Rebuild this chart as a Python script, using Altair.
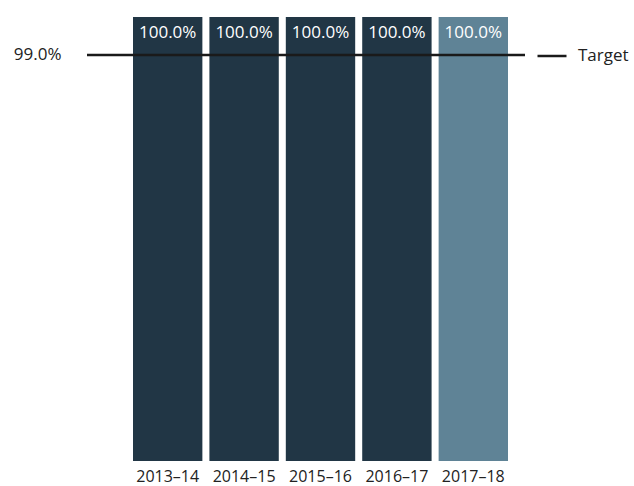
import altair as alt
import pandas as pd

years = ["2013–14", "2014–15", "2015–16", "2016–17", "2017–18"]
values = [100.0, 100.0, 100.0, 100.0, 100.0]
kinds = ["past", "past", "past", "past", "current"]
target = [99.0]
base = 88.3

df = pd.DataFrame({"year": years, "value": values, "kind": kinds, "base": [base] * len(years)})
df["label"] = [f"{v:.1f}%" for v in values]
tdf = pd.DataFrame({"t": target, "series": ["Target"]})

FONT = "Open Sans"
FS = 17

x = alt.X("year:N", sort=years, title=None,
          scale=alt.Scale(range=[46, 421], paddingInner=0.092, paddingOuter=0),
          axis=alt.Axis(domain=False, ticks=False, labelAngle=0, labelPadding=7,
                        labelFontSize=16, labelColor="#222", labelFont=FONT))
yscale = alt.Scale(domain=[base, 100], zero=False, nice=False)

bars = alt.Chart(df).mark_bar().encode(
    x=x,
    y=alt.Y("value:Q", scale=yscale, title=None,
            axis=alt.Axis(values=[99], domain=False, ticks=False, grid=False,
                          labelExpr="format(datum.value, '.1f') + '%'",
                          labelPadding=26, labelFontSize=FS, labelColor="#222", labelFont=FONT)),
    y2="base:Q",
    color=alt.Color("kind:N", scale=alt.Scale(domain=["past", "current"], range=["#213645", "#5f8396"]),
                    legend=None),
)

labels = alt.Chart(df).mark_text(color="white", fontSize=FS, font=FONT, baseline="middle", dy=16).encode(
    x=alt.X("year:N", sort=years),
    y=alt.Y("value:Q", scale=yscale),
    text="label:N",
)

rule = alt.Chart(tdf).mark_rule(strokeWidth=2.5).encode(
    y=alt.Y("t:Q", scale=yscale),
    x=alt.value(0),
    x2=alt.value(438),
    stroke=alt.Stroke("series:N", scale=alt.Scale(domain=["Target"], range=["#1a1a1a"]),
                      legend=alt.Legend(title=None, orient="none", legendX=449, legendY=23,
                                        symbolType="stroke", symbolSize=841, symbolStrokeWidth=2.5,
                                        labelFontSize=FS, labelFont=FONT, labelColor="#222",
                                        labelOffset=10, padding=0)),
)

chart = alt.layer(bars, rule, labels).resolve_scale(color="independent").properties(
    width=438, height=444,
    autosize=alt.AutoSizeParams(type="none"),
    padding={"left": 87, "top": 17, "right": 109, "bottom": 25},
).configure_view(stroke=None)

chart.save("out.html", embed_options={"renderer": "svg", "actions": False})
